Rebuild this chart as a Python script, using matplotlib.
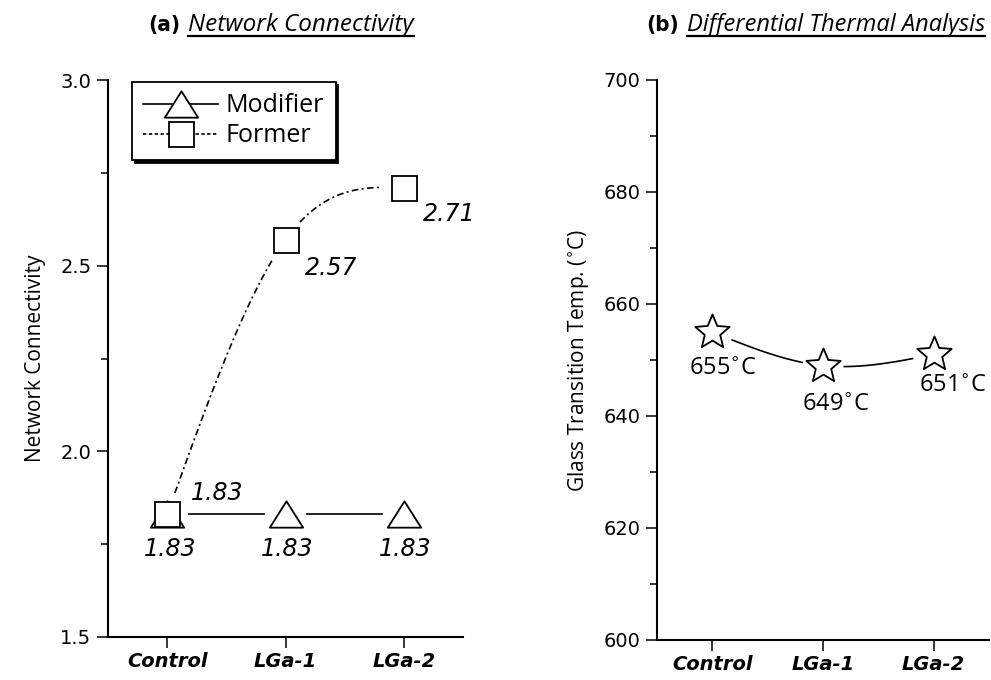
import numpy as np
import matplotlib
matplotlib.use("Agg")
import matplotlib.pyplot as plt
from matplotlib.path import Path
from matplotlib.lines import Line2D

categories = ["Control", "LGa-1", "LGa-2"]
modifier = [1.83, 1.83, 1.83]
former = [1.83, 2.57, 2.71]
tg = [655, 649, 651]

xpos = np.arange(len(categories))

LBL = "Open Sans"
NUM = "DejaVu Sans"


def spline_curve(x, y, num=400):
    # natural cubic spline through the points (smooth connecting line)
    x = np.asarray(x, float)
    y = np.asarray(y, float)
    n = len(x)
    h = np.diff(x)
    A = np.zeros((n, n))
    b = np.zeros(n)
    A[0, 0] = A[-1, -1] = 1
    for i in range(1, n - 1):
        A[i, i - 1] = h[i - 1]
        A[i, i] = 2 * (h[i - 1] + h[i])
        A[i, i + 1] = h[i]
        b[i] = 6 * ((y[i + 1] - y[i]) / h[i] - (y[i] - y[i - 1]) / h[i - 1])
    M = np.linalg.solve(A, b)
    xs = np.linspace(x[0], x[-1], num)
    idx = np.clip(np.searchsorted(x, xs) - 1, 0, n - 2)
    x0, x1 = x[idx], x[idx + 1]
    hh = x1 - x0
    t0, t1 = x1 - xs, xs - x0
    ys = (M[idx] * t0 ** 3 / (6 * hh) + M[idx + 1] * t1 ** 3 / (6 * hh)
          + (y[idx] / hh - M[idx] * hh / 6) * t0
          + (y[idx + 1] / hh - M[idx + 1] * hh / 6) * t1)
    return xs, ys


def gapped(ax, xs, ys, px, py, gap=21):
    # leave a gap around each symbol, like Origin does
    pts = ax.transData.transform(np.column_stack([xs, ys]))
    mk = ax.transData.transform(np.column_stack([px, py]))
    d = np.hypot(pts[:, None, 0] - mk[None, :, 0], pts[:, None, 1] - mk[None, :, 1]).min(axis=1)
    ys = ys.copy()
    ys[d < gap] = np.nan
    return ys


tri = Path([(-1, -0.79), (1, -0.79), (0, 0.79), (-1, -0.79)],
           [Path.MOVETO, Path.LINETO, Path.LINETO, Path.CLOSEPOLY])
star = Path.unit_regular_star(5, 0.45)

fig = plt.figure(figsize=(9.91, 6.8), dpi=100)
W, H = 991, 680

ax1 = fig.add_axes([108 / W, 1 - 637 / H, 355 / W, 557 / H])
ax2 = fig.add_axes([657 / W, 1 - 640 / H, 332 / W, 560 / H])

for ax in (ax1, ax2):
    ax.set_xlim(-0.5, 2.5)
    for s in ("top", "right"):
        ax.spines[s].set_visible(False)
    for s in ("left", "bottom"):
        ax.spines[s].set_linewidth(1.5)
    ax.set_xticks(xpos)
    ax.set_xticklabels(categories, fontfamily=NUM, fontweight="bold", fontstyle="italic", fontsize=14)
    ax.tick_params(axis="both", which="major", direction="out", length=8, width=1.1, pad=3)
    ax.tick_params(axis="y", which="minor", direction="out", length=5, width=1.1)
    ax.tick_params(axis="y", pad=4)

# ---- (a) network connectivity
ax1.set_ylim(1.5, 3.0)
ax1.set_yticks([1.5, 2.0, 2.5, 3.0])
ax1.set_yticklabels(["1.5", "2.0", "2.5", "3.0"], fontfamily=NUM, fontsize=14)
ax1.set_yticks([1.75, 2.25, 2.75], minor=True)
ax1.set_ylabel("Network Connectivity", fontfamily=LBL, fontsize=15, labelpad=10)

xs, ys = spline_curve(xpos, modifier)
ax1.plot(xs, gapped(ax1, xs, ys, xpos, modifier), color="k", lw=1.2)
xs, ys = spline_curve(xpos, former)
ax1.plot(xs, gapped(ax1, xs, ys, xpos, former, gap=22), color="k", lw=1.2, dashes=(4, 2, 1.2, 2))

ax1.plot(xpos, modifier, ls="none", marker=tri, ms=24, mfc="white", mec="k", mew=1.3, zorder=3)
ax1.plot(xpos, former, ls="none", marker="s", ms=18, mfc="white", mec="k", mew=1.3, zorder=4)

mod_off = [(3, -35), (2, -35), (1, -35)]
for x, v, off in zip(xpos, modifier, mod_off):
    ax1.annotate(f"{v:.2f}", (x, v), xytext=off, textcoords="offset pixels", ha="center", va="center",
                 fontfamily=NUM, fontstyle="italic", fontsize=17)
for_off = [(50, 21), (46, -28), (45, -26)]
for x, v, off in zip(xpos, former, for_off):
    ax1.annotate(f"{v:.2f}", (x, v), xytext=off, textcoords="offset pixels", ha="center", va="center",
                 fontfamily=NUM, fontstyle="italic", fontsize=17)

handles = [
    Line2D([], [], color="k", lw=1.2, marker=tri, ms=24, mfc="white", mec="k", mew=1.3),
    Line2D([], [], color="k", lw=1.2, dashes=(2, 1.5), marker="s", ms=18, mfc="white", mec="k", mew=1.3),
]
leg = ax1.legend(handles, ["Modifier", "Former"], loc="upper left", bbox_to_anchor=(0.068, 0.996),
                 numpoints=1, fancybox=False, frameon=True, edgecolor="k", framealpha=1,
                 shadow={"color": "k", "alpha": 1}, handlelength=3.0, handletextpad=0.3,
                 labelspacing=0.2, borderpad=0.45, borderaxespad=0,
                 prop={"family": LBL, "size": 18})
leg.get_frame().set_linewidth(1.3)

# ---- (b) DTA
ax2.set_ylim(600, 700)
ax2.set_yticks([600, 620, 640, 660, 680, 700])
ax2.set_yticklabels(["600", "620", "640", "660", "680", "700"], fontfamily=NUM, fontsize=14)
ax2.set_yticks([610, 630, 650, 670, 690], minor=True)
ax2.set_ylabel("Glass Transition Temp. ($^{\\circ}$C)", fontfamily=LBL, fontsize=15, labelpad=9)

xs, ys = spline_curve(xpos, tg)
ax2.plot(xs, gapped(ax2, xs, ys, xpos, tg), color="k", lw=1.2)
ax2.plot(xpos, tg, ls="none", marker=star, ms=26, mfc="white", mec="k", mew=1.3, zorder=3)

tg_off = [(11, -37), (13, -39), (19, -32)]
for x, v, off in zip(xpos, tg, tg_off):
    ax2.annotate(f"{v}$^{{\\circ}}$C", (x, v), xytext=off, textcoords="offset pixels", ha="center", va="center",
                 fontfamily=LBL, fontsize=17)

# ---- titles with underlined italic part
fig.canvas.draw()
rend = fig.canvas.get_renderer()


def title(x_px, y_px, tag, text, size):
    t1 = fig.text(x_px / W, 1 - y_px / H, tag, fontfamily="DejaVu Sans", fontstretch="condensed",
                  fontweight="bold", fontsize=16, va="baseline", ha="left")
    bb = t1.get_window_extent(rend)
    t2 = fig.text((bb.x1 + 8) / W, 1 - y_px / H, text, fontfamily=LBL, fontstyle="italic",
                  fontsize=size, va="baseline", ha="left")
    bb2 = t2.get_window_extent(rend)
    yl = (H - y_px - 5) / H
    fig.add_artist(Line2D([bb2.x0 / W, bb2.x1 / W], [yl, yl], color="k", lw=1.6))


title(148, 31, "(a)", "Network Connectivity", 17.5)
title(646, 31, "(b)", "Differential Thermal Analysis", 17)

fig.savefig("out.png", dpi=100)
